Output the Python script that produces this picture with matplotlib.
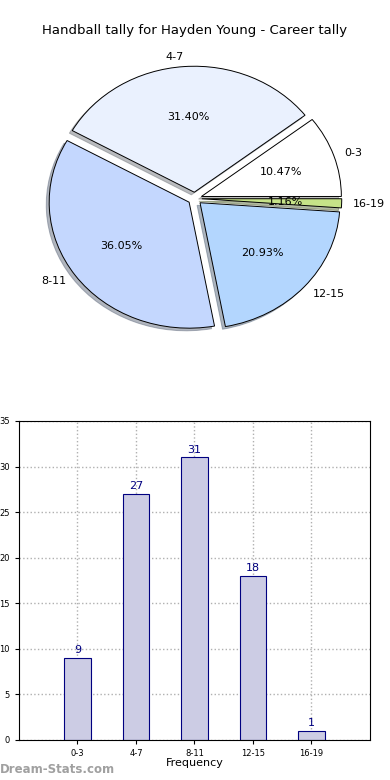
import matplotlib
matplotlib.use("Agg")
import matplotlib.pyplot as plt

# data
groups = ["0-3", "4-7", "8-11", "12-15", "16-19"]
counts = [9, 27, 31, 18, 1]
pie_colors = ["#ffffff", "#eaf1fe", "#c4d7fe", "#b3d6fe", "#c6e388"]
title = "Handball tally for Hayden Young - Career tally"

fig = plt.figure(figsize=(3.9, 7.8), dpi=100)

# pie (old-style, not aspect-equal so it comes out a bit squashed)
ax1 = fig.add_axes([0.051, 0.5436, 0.897, 0.4038])
ax1.pie(counts, labels=groups, colors=pie_colors, autopct="%1.2f%%",
        explode=[0.05] * len(counts),
        shadow={"ox": -0.015, "oy": -0.015, "shade": 0.5},
        startangle=0, labeldistance=1.08,
        wedgeprops={"edgecolor": "black", "linewidth": 0.7},
        textprops={"fontsize": 8})
ax1.set_aspect("auto")
fig.text(0.5, 0.961, title, ha="center", va="center", fontsize=9.5)

# bars
ax2 = fig.add_axes([0.0487, 0.0513, 0.9, 0.409])
x = list(range(len(groups)))
ax2.bar(x, counts, width=0.45, color="#ccccE4", edgecolor="#000080",
        linewidth=0.8, zorder=2)
for xi, c in zip(x, counts):
    ax2.text(xi, c + 0.3, str(c), ha="center", va="bottom", color="#000080",
             fontsize=8)
ax2.set_xlim(-1, 5)
ax2.set_ylim(0, 35)
ax2.set_xticks(x)
ax2.set_xticklabels(groups, fontsize=6)
ax2.set_yticks(range(0, 36, 5))
ax2.tick_params(axis="y", labelsize=6, length=3)
ax2.tick_params(axis="x", length=3)
ax2.grid(True, linestyle=":", color="#b0b0b0", linewidth=1, zorder=0)
ax2.set_axisbelow(True)
ax2.set_xlabel("Frequency", fontsize=8, labelpad=0)
ax2.set_ylabel("Handball Tally", fontsize=8)
ax2.yaxis.set_label_coords(-0.058, 0.5)

fig.text(0.0, 0.013, "Dream-Stats.com", color="#a0a0a0", fontsize=8.5,
         fontweight="bold", ha="left", va="center")

fig.savefig("out.png", dpi=100)
